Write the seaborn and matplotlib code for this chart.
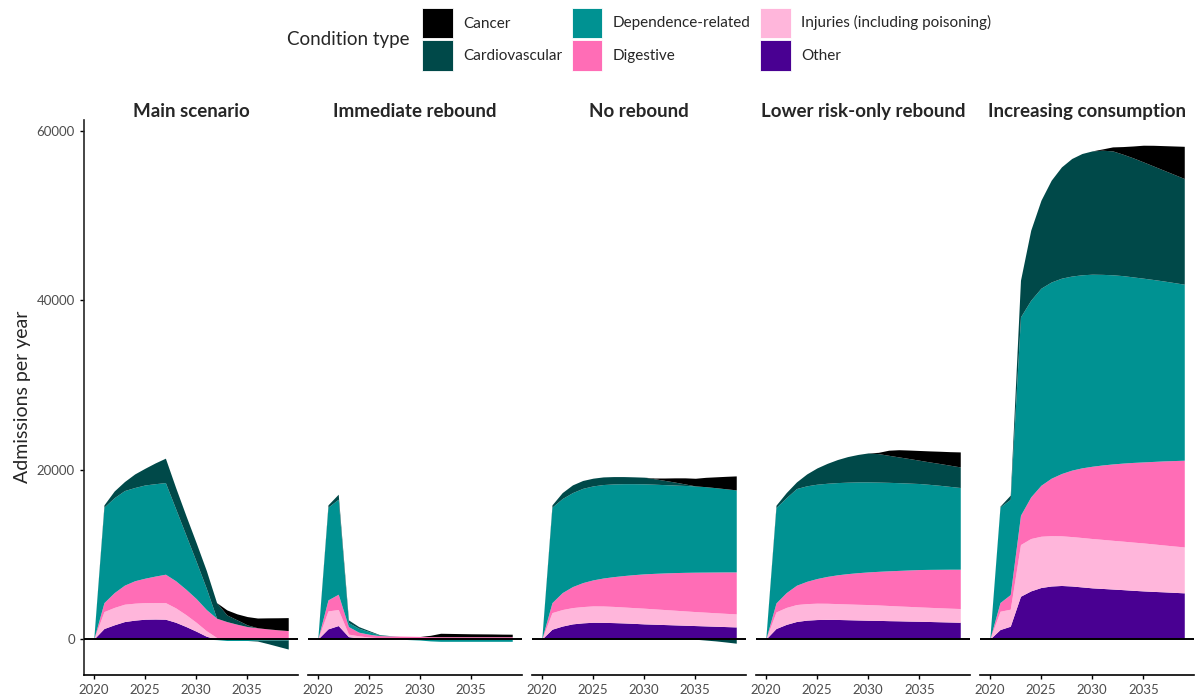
import numpy as np
import pandas as pd
import matplotlib
matplotlib.use("Agg")
import matplotlib.pyplot as plt
from matplotlib.patches import Patch
from matplotlib.ticker import FormatStrFormatter
import seaborn as sns

####data####
years = list(range(2020, 2040))
scenarios = ["Main scenario", "Immediate rebound", "No rebound",
             "Lower risk-only rebound", "Increasing consumption"]
conditions = ["Cancer", "Cardiovascular", "Dependence-related", "Digestive",
              "Injuries (including poisoning)", "Other"]
colours = ["#000000", "#004949", "#009292", "#ff6db6", "#ffb6db", "#490092"]

# Main scenario
main_cancer = [0, 0, 0, 0, 0, 0, 0, 0, 0, 0, 0, 0, 0, 590, 710, 980, 1150, 1300, 1420, 1530]
main_cardio = [0, 270, 790, 1060, 1600, 1970, 2450, 2880, 2500, 2300, 2200, 2100, 1840, 790, 510, 200, -100, -420, -740, -1060]
main_depend = [0, 11260, 11200, 11160, 11000, 11000, 10900, 10810, 8500, 6400, 4400, 2500, -50, -150, -150, -150, -120, -100, -100, -100]
main_digest = [0, 1060, 1750, 2250, 2650, 2880, 3120, 3350, 3200, 3000, 2800, 2500, 2280, 2080, 1770, 1490, 1350, 1220, 1110, 1020]
main_injury = [0, 2000, 2050, 2050, 2000, 1960, 1950, 1960, 1700, 1400, 1050, 650, 200, 0, 0, 0, 0, 0, 0, 0]
main_other = [0, 1260, 1700, 2080, 2250, 2360, 2380, 2360, 2000, 1500, 950, 350, 0, 0, 0, 0, 0, 0, 0, 0]

# Immediate rebound
imm_cancer = [0, 0, 0, 0, 0, 0, 0, 0, 0, 0, 0, 150, 400, 380, 360, 340, 330, 320, 300, 290]
imm_cardio = [0, 270, 590, 320, 190, 120, 50, 0, 0, 0, 0, 0, 0, 0, 0, 0, 0, 0, 0, 0]
imm_depend = [0, 10940, 11210, 470, 470, 310, 80, 30, 0, -50, -100, -200, -250, -250, -250, -250, -250, -250, -250, -250]
imm_digest = [0, 1300, 1810, 890, 430, 340, 250, 260, 260, 260, 260, 260, 260, 260, 270, 270, 270, 270, 270, 270]
imm_injury = [0, 2120, 1890, 300, 250, 150, 120, 100, 80, 70, 60, 50, 40, 40, 30, 30, 30, 30, 30, 30]
imm_other = [0, 1220, 1610, 300, 150, 100, 60, 40, 30, 20, 10, 0, 0, 0, 0, 0, 0, 0, 0, 0]

# No rebound
norb_cancer = [0, 0, 0, 0, 0, 0, 0, 0, 0, 0, 0, 80, 280, 500, 720, 900, 1100, 1280, 1470, 1650]
norb_cardio = [0, 270, 700, 910, 930, 910, 900, 870, 840, 810, 790, 650, 500, 350, 180, 0, -100, -200, -330, -470]
norb_depend = [0, 11260, 11100, 11090, 11120, 11090, 11030, 10940, 10840, 10730, 10620, 10520, 10420, 10330, 10250, 10180, 10080, 9950, 9810, 9680]
norb_digest = [0, 1180, 2000, 2480, 2830, 3070, 3300, 3510, 3710, 3890, 4050, 4190, 4320, 4440, 4550, 4650, 4730, 4810, 4890, 4950]
norb_injury = [0, 1960, 1950, 1920, 1920, 1930, 1930, 1910, 1880, 1860, 1850, 1810, 1770, 1730, 1690, 1650, 1620, 1590, 1560, 1540]
norb_other = [0, 1180, 1550, 1810, 1930, 2000, 1990, 1960, 1920, 1870, 1810, 1770, 1730, 1690, 1650, 1610, 1570, 1530, 1490, 1450]

# Lower risk-only rebound
low_cancer = [0, 0, 0, 0, 0, 0, 0, 0, 0, 0, 0, 150, 600, 850, 1000, 1150, 1300, 1450, 1600, 1770]
low_cardio = [0, 270, 600, 780, 1400, 1920, 2350, 2720, 3020, 3240, 3420, 3360, 3190, 3040, 2900, 2750, 2650, 2570, 2500, 2430]
low_depend = [0, 11260, 11200, 11410, 11270, 11130, 10990, 10880, 10790, 10710, 10620, 10530, 10440, 10350, 10250, 10150, 10030, 9910, 9770, 9640]
low_digest = [0, 1060, 1750, 2280, 2630, 2910, 3170, 3400, 3580, 3730, 3850, 3970, 4090, 4200, 4300, 4410, 4480, 4540, 4600, 4640]
low_injury = [0, 1960, 2000, 2000, 1950, 1930, 1900, 1870, 1860, 1850, 1850, 1820, 1790, 1750, 1730, 1690, 1670, 1650, 1630, 1620]
low_other = [0, 1260, 1750, 2090, 2250, 2320, 2340, 2330, 2300, 2270, 2240, 2220, 2190, 2170, 2140, 2120, 2090, 2060, 2030, 2000]

# Increasing consumption
inc_cancer = [0, 0, 0, 0, 0, 0, 0, 0, 0, 0, 0, 150, 470, 900, 1400, 1970, 2450, 2900, 3350, 3800]
inc_cardio = [0, 90, 480, 4330, 8260, 10380, 12010, 13130, 13870, 14310, 14550, 14650, 14620, 14330, 14050, 13720, 13390, 13070, 12770, 12470]
inc_depend = [0, 11280, 11250, 23400, 23210, 23250, 23150, 23050, 22900, 22780, 22660, 22490, 22320, 22120, 21890, 21680, 21460, 21230, 21000, 20770]
inc_digest = [0, 1030, 1730, 3460, 4910, 6020, 6780, 7350, 7840, 8220, 8530, 8780, 9010, 9210, 9400, 9560, 9740, 9920, 10080, 10230]
inc_injury = [0, 2160, 2010, 6100, 6180, 6050, 5940, 5860, 5830, 5830, 5820, 5790, 5750, 5720, 5690, 5660, 5600, 5530, 5470, 5420]
inc_other = [0, 1140, 1530, 5070, 5700, 6100, 6280, 6340, 6280, 6170, 6060, 5990, 5920, 5850, 5770, 5700, 5640, 5590, 5530, 5470]

series = {
    "Main scenario": [main_cancer, main_cardio, main_depend, main_digest, main_injury, main_other],
    "Immediate rebound": [imm_cancer, imm_cardio, imm_depend, imm_digest, imm_injury, imm_other],
    "No rebound": [norb_cancer, norb_cardio, norb_depend, norb_digest, norb_injury, norb_other],
    "Lower risk-only rebound": [low_cancer, low_cardio, low_depend, low_digest, low_injury, low_other],
    "Increasing consumption": [inc_cancer, inc_cardio, inc_depend, inc_digest, inc_injury, inc_other],
}

rows = []
for scen in scenarios:
    for cond, vals in zip(conditions, series[scen]):
        for yr, v in zip(years, vals):
            rows.append((scen, cond, yr, v))
df = pd.DataFrame(rows, columns=["scenario", "condition", "year", "admissions"])

####figure settings####
sns.set_theme(style="ticks")
plt.rcParams["font.family"] = ["Lato", "DejaVu Sans"]
plt.rcParams["axes.linewidth"] = 1.2
plt.rcParams["xtick.major.width"] = 1.0
plt.rcParams["ytick.major.width"] = 1.0
plt.rcParams["xtick.major.size"] = 3
plt.rcParams["ytick.major.size"] = 3
plt.rcParams["xtick.labelsize"] = 9.5
plt.rcParams["ytick.labelsize"] = 9.5
plt.rcParams["xtick.color"] = "black"
plt.rcParams["ytick.color"] = "black"
plt.rcParams["xtick.labelcolor"] = "#4d4d4d"
plt.rcParams["ytick.labelcolor"] = "#4d4d4d"

pal = dict(zip(conditions, colours))


def stacked_area(data, **kws):
    # ggplot-style stacking: positives up from 0, negatives down from 0
    ax = plt.gca()
    wide = data.pivot(index="year", columns="condition", values="admissions")
    x = wide.index.values
    up = np.zeros(len(x))
    down = np.zeros(len(x))
    for cond in reversed(conditions):
        v = wide[cond].values.astype(float)
        p = np.clip(v, 0, None)
        n = np.clip(v, None, 0)
        ax.fill_between(x, up, up + p, color=pal[cond], lw=0)
        ax.fill_between(x, down, down + n, color=pal[cond], lw=0)
        up = up + p
        down = down + n
    ax.axhline(0, color="black", lw=1.4, zorder=5)


g = sns.FacetGrid(df, col="scenario", col_order=scenarios, sharex=True, sharey=True,
                  height=7, aspect=12 / 7 / 5, despine=True)
g.map_dataframe(stacked_area)
g.set_titles("{col_name}", fontweight="bold", size=13.5, pad=2)
g.set_axis_labels("", "Admissions per year")
g.set(xlim=(2019.05, 2039.95), ylim=(-4200, 61300),
      xticks=[2020, 2025, 2030, 2035], yticks=[0, 20000, 40000, 60000])

for i, ax in enumerate(g.axes.flat):
    ax.yaxis.set_major_formatter(FormatStrFormatter("%d"))
    ax.spines["bottom"].set_color("black")
    if i > 0:
        ax.spines["left"].set_visible(False)
        ax.tick_params(axis="y", left=False, labelleft=False)
g.axes.flat[0].set_ylabel("Admissions per year", fontsize=14)

fig = g.figure
fig.set_size_inches(12, 7)
fig.subplots_adjust(left=0.07, right=0.995, bottom=0.036, top=0.829, wspace=0.047)

handles = [Patch(facecolor=pal[c], edgecolor="white", lw=0.6) for c in conditions]
fig.legend(handles, conditions, ncol=3, loc="upper left", bbox_to_anchor=(0.3455, 1.0),
           frameon=False, fontsize=11, handlelength=2.0, handleheight=2.7,
           handletextpad=0.7, columnspacing=0.6, labelspacing=0.12, borderpad=0.0)
fig.text(0.239, 1 - 40 / 700, "Condition type", fontsize=13.5, va="center", ha="left")

fig.savefig("out.png", dpi=100)
